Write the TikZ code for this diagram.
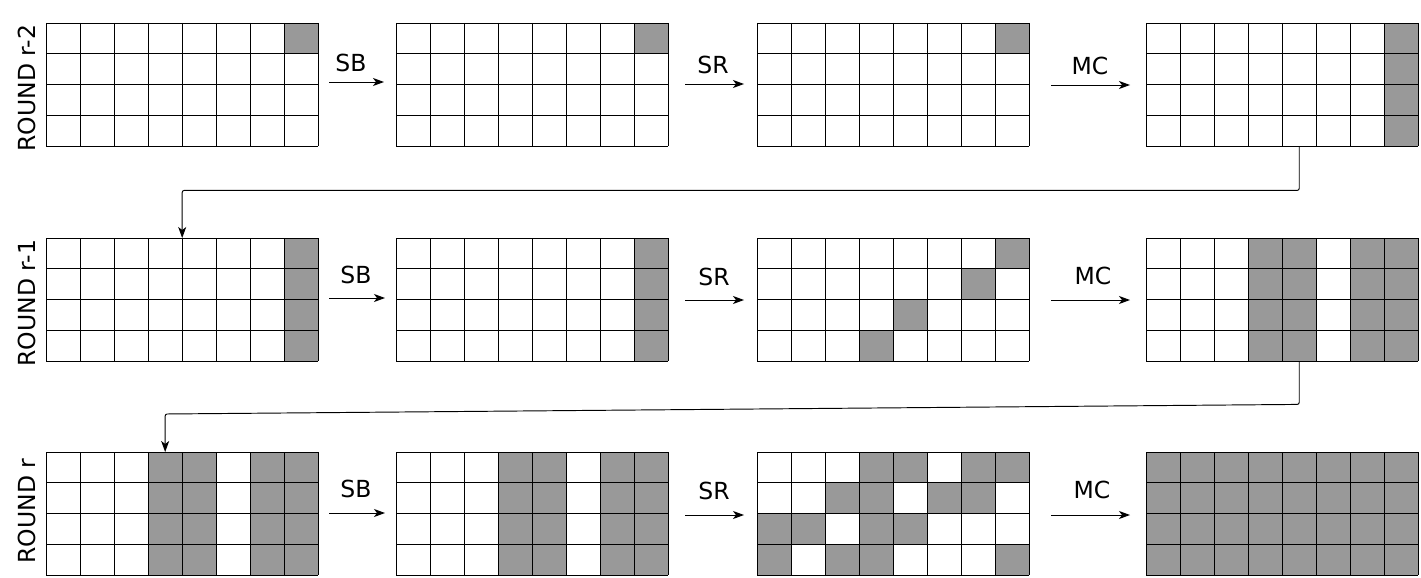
\documentclass[tikz,border=0pt]{standalone}
\usepackage{fontspec}
\setmainfont{DejaVu Sans}
\usetikzlibrary{arrows.meta,calc}
\definecolor{cellgray}{RGB}{153,153,153}
\tikzset{
  gridbox/.style={draw=none,minimum width=272pt,minimum height=123pt,inner sep=0pt,anchor=north west},
  gline/.style={line width=0.95pt,black},
  arr/.style={line width=0.95pt,-{Stealth[length=11pt,width=8pt,inset=3pt]}},
  conn/.style={line width=0.95pt,-{Stealth[length=11pt,width=8pt,inset=3pt]},rounded corners=2pt},
  lbl/.style={inner sep=0pt,font=\fontsize{23.5}{28}\selectfont},
  roundlbl/.style={inner sep=0pt,rotate=90,font=\fontsize{23.5}{28}\selectfont}
}
\newcommand\mygrid[4]{%
  \node[gridbox] (#1) at (#2,#3) {};
  \foreach \r/\c in {#4} {\fill[cellgray] (#2+34*\c,#3+30.75*\r) rectangle ++(34,30.75);}
  \foreach \i in {0,...,8} {\draw[gline] (#2+34*\i,#3) -- ++(0,123);}
  \foreach \j in {0,...,4} {\draw[gline] (#2,#3+30.75*\j) -- ++(272,0);}
}
\begin{document}
\begin{tikzpicture}[x=1pt,y=-1pt]
\useasboundingbox (0,0) rectangle (1421,578);
\fill[white] (0,0) rectangle (1421,578);
% round labels
\node[roundlbl] (l1) at (27,88) {ROUND r-2};
\node[roundlbl] (l2) at (27,303) {ROUND r-1};
\node[roundlbl] (l3) at (27,511) {ROUND r};
% row 1
\mygrid{g11}{46}{23}{0/7}
\mygrid{g12}{396}{23}{0/7}
\mygrid{g13}{757}{23}{0/7}
\mygrid{g14}{1146}{23}{0/7,1/7,2/7,3/7}
% row 2
\mygrid{g21}{46}{238}{0/7,1/7,2/7,3/7}
\mygrid{g22}{396}{238}{0/7,1/7,2/7,3/7}
\mygrid{g23}{757}{238}{0/7,1/6,2/4,3/3}
\mygrid{g24}{1146}{238}{0/3,1/3,2/3,3/3,0/4,1/4,2/4,3/4,0/6,1/6,2/6,3/6,0/7,1/7,2/7,3/7}
% row 3
\mygrid{g31}{46}{452}{0/3,1/3,2/3,3/3,0/4,1/4,2/4,3/4,0/6,1/6,2/6,3/6,0/7,1/7,2/7,3/7}
\mygrid{g32}{396}{452}{0/3,1/3,2/3,3/3,0/4,1/4,2/4,3/4,0/6,1/6,2/6,3/6,0/7,1/7,2/7,3/7}
\mygrid{g33}{757}{452}{0/3,0/4,0/6,0/7,1/2,1/3,1/5,1/6,2/0,2/1,2/3,2/4,3/0,3/2,3/3,3/7}
\mygrid{g34}{1146}{452}{0/0,0/1,0/2,0/3,0/4,0/5,0/6,0/7,1/0,1/1,1/2,1/3,1/4,1/5,1/6,1/7,2/0,2/1,2/2,2/3,2/4,2/5,2/6,2/7,3/0,3/1,3/2,3/3,3/4,3/5,3/6,3/7}
% step labels and arrows, row 1
\node[lbl] (sb1) at (351,63) {SB};
\coordinate (sb1a) at (329,82); \coordinate (sb1b) at (384,82);
\draw[arr] (sb1a) -- (sb1b);
\node[lbl] (sr1) at (713,65) {SR};
\coordinate (sr1a) at (685,84); \coordinate (sr1b) at (744,84);
\draw[arr] (sr1a) -- (sr1b);
\node[lbl] (mc1) at (1090,66) {MC};
\coordinate (mc1a) at (1051,85); \coordinate (mc1b) at (1130,85);
\draw[arr] (mc1a) -- (mc1b);
% row 2
\node[lbl] (sb2) at (356,275) {SB};
\coordinate (sb2a) at (329,298); \coordinate (sb2b) at (385,298);
\draw[arr] (sb2a) -- (sb2b);
\node[lbl] (sr2) at (714,277) {SR};
\coordinate (sr2a) at (685,300); \coordinate (sr2b) at (744,300);
\draw[arr] (sr2a) -- (sr2b);
\node[lbl] (mc2) at (1093,276) {MC};
\coordinate (mc2a) at (1051,300); \coordinate (mc2b) at (1130,300);
\draw[arr] (mc2a) -- (mc2b);
% row 3
\node[lbl] (sb3) at (356,489) {SB};
\coordinate (sb3a) at (329,513); \coordinate (sb3b) at (385,513);
\draw[arr] (sb3a) -- (sb3b);
\node[lbl] (sr3) at (714,491) {SR};
\coordinate (sr3a) at (685,515); \coordinate (sr3b) at (744,515);
\draw[arr] (sr3a) -- (sr3b);
\node[lbl] (mc3) at (1092,490) {MC};
\coordinate (mc3a) at (1051,515); \coordinate (mc3b) at (1130,515);
\draw[arr] (mc3a) -- (mc3b);
% connectors between rounds
\draw[conn] ($(g14.south west)!0.5625!(g14.south east)$) -- ++(0,44) -| ($(g21.north west)!0.5!(g21.north east)$);
\draw[conn] ($(g24.south west)!0.5625!(g24.south east)$) -- ++(0,43) -- ($(g31.north west)!0.4375!(g31.north east)+(0,-38)$) -- ($(g31.north west)!0.4375!(g31.north east)$);
\end{tikzpicture}
\end{document}
